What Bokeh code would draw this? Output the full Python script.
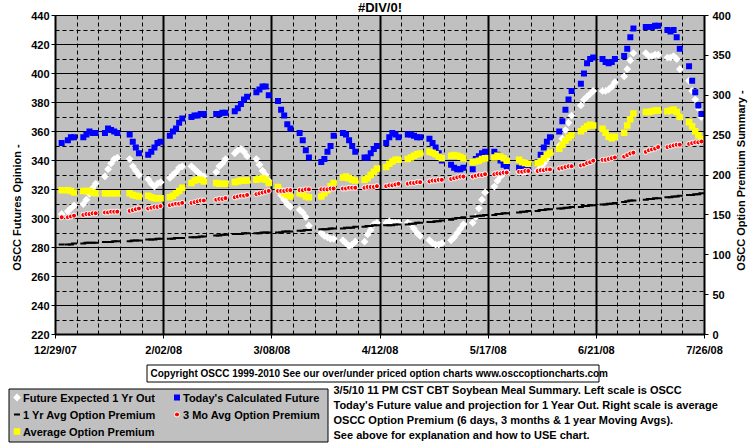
import math
import pandas as pd
from bokeh.plotting import figure
from bokeh.layouts import column, row
from bokeh.models import Range1d, LinearAxis, FixedTicker, ColumnDataSource
from bokeh.core.properties import value
from bokeh.embed import file_html
from bokeh.resources import INLINE

FONT = "Liberation Sans"

# ---------------- data ----------------
axis_start = "2007-12-29"
first_day = "2007-12-31"
last_day = "2008-07-25"
holidays = ["2008-01-01", "2008-01-21", "2008-02-18", "2008-03-21",
            "2008-05-26", "2008-07-04"]

tick_dates = ["2007-12-29", "2008-02-02", "2008-03-08", "2008-04-12",
              "2008-05-17", "2008-06-21", "2008-07-26"]
tick_labels = ["12/29/07", "2/02/08", "3/08/08", "4/12/08",
               "5/17/08", "6/21/08", "7/26/08"]
left_ticks = [220, 240, 260, 280, 300, 320, 340, 360, 380, 400, 420, 440]
right_ticks = [0, 50, 100, 150, 200, 250, 300, 350, 400]

# Future Expected 1 Yr Out (left scale)
future_1yr = [
    303, 305, 307, 309,
    310, 313, 317, 321, 324,
    329, 334, 338, 341, 342,
    341, 336, 333, 330,
    327, 324, 322, 324, 325,
    328, 330, 332, 335, 336,
    336, 334, 332, 330, 329,
    332, 336, 338, 341,
    345, 347, 348, 346, 343,
    341, 337, 333, 330, 326,
    321, 316, 313, 310, 308,
    306, 304, 301, 295,
    290, 288, 287, 286, 286,
    285, 283, 281, 282, 284,
    284, 289, 292, 296, 297,
    297, 298, 297, 297, 297,
    297, 296, 293, 290, 288,
    285, 283, 282, 282, 283,
    285, 287, 290, 293, 296,
    297, 301, 307, 313, 318,
    322, 326, 329, 331, 332,
    332, 332, 332, 333,
    333, 335, 338, 341, 345,
    350, 355, 361, 366, 371,
    378, 382, 384, 386, 388,
    388, 388, 389, 391, 394,
    398, 403, 409, 414,
    414, 412, 412, 413, 413,
    411, 411, 412, 410, 403,
    395, 388, 382, 376, 370,
]

# Today's Calculated Future (left scale)
today_future = [
    352, 354, 356, 356,
    356, 358, 360, 359, 359,
    359, 362, 361, 360, 359,
    358, 353, 349, 345,
    344, 346, 349, 352, 353,
    357, 360, 362, 366, 369,
    370, 371, 371, 372, 372,
    372, 372, 373, 373,
    374, 376, 379, 382, 384,
    387, 389, 391, 391, 385,
    381, 375, 371, 365, 362,
    359, 354, 347, 342,
    339, 341, 346, 350, 357,
    359, 358, 354, 350, 346,
    342, 342, 345, 348, 350,
    352, 356, 359, 358, 356,
    358, 358, 357, 356, 356,
    355, 352, 349, 345, 340,
    337, 335, 334, 334, 335,
    334, 341, 343, 345, 346,
    346, 344, 340, 337, 336,
    335, 334, 334, 334,
    339, 344, 349, 353, 356,
    360, 367, 375, 382, 388,
    393, 400, 407, 410, 411,
    410, 408, 407, 408, 410,
    412, 417, 425, 431,
    432, 432, 432, 433, 433,
    430, 429, 430, 425, 417,
    405, 395, 387, 378, 372,
]

# 1 Yr Avg Option Premium (right scale)
yr1_premium = [
    113, 113, 113, 114,
    114, 115, 115, 115, 115,
    116, 116, 116, 117, 117,
    117, 118, 118, 118,
    119, 119, 119, 120, 120,
    120, 120, 121, 121, 121,
    122, 122, 122, 123, 123,
    124, 124, 125, 125,
    126, 126, 126, 127, 127,
    127, 127, 128, 128, 128,
    128, 128, 129, 129, 129,
    130, 130, 131, 131,
    132, 132, 132, 133, 133,
    133, 134, 134, 134, 135,
    135, 136, 136, 137, 137,
    137, 137, 137, 138, 138,
    138, 139, 139, 140, 140,
    141, 141, 142, 142, 143,
    144, 145, 146, 146, 147,
    148, 148, 149, 149, 150,
    150, 151, 151, 152, 152,
    153, 154, 154, 155,
    155, 156, 156, 157, 157,
    158, 158, 159, 159, 160,
    160, 161, 161, 162, 162,
    163, 163, 164, 164, 165,
    166, 167, 168, 168,
    169, 170, 170, 171, 171,
    172, 172, 173, 173, 174,
    175, 175, 176, 176, 177,
]

# 3 Mo Avg Option Premium (right scale)
mo3_premium = [
    147, 147, 148, 149,
    150, 151, 151, 152, 152,
    153, 153, 154, 154, 154,
    155, 156, 157, 158,
    158, 159, 160, 160, 161,
    162, 163, 164, 164, 165,
    165, 166, 167, 168, 168,
    169, 170, 170, 171,
    172, 173, 174, 174, 175,
    176, 177, 178, 179, 180,
    180, 180, 180, 181, 181,
    181, 181, 182, 182,
    182, 182, 182, 183, 183,
    183, 183, 184, 184, 184,
    184, 185, 185, 185, 186,
    186, 187, 187, 188, 189,
    189, 190, 190, 191, 191,
    192, 193, 193, 194, 194,
    195, 196, 197, 198, 198,
    198, 199, 200, 200, 201,
    201, 202, 202, 203, 203,
    204, 204, 205, 205,
    205, 206, 206, 207, 207,
    208, 209, 210, 211, 211,
    212, 213, 215, 216, 218,
    219, 219, 220, 221, 222,
    223, 225, 227, 228,
    229, 231, 232, 233, 235,
    235, 236, 237, 238, 238,
    239, 240, 241, 241, 242,
]

# Average Option Premium (right scale)
avg_premium = [
    181, 181, 180, 178,
    180, 180, 180, 178, 177,
    177, 177, 177, 177, 177,
    177, 175, 174, 173,
    174, 172, 171, 171, 171,
    172, 174, 177, 180, 184,
    190, 193, 194, 194, 192,
    190, 189, 189, 189,
    191, 192, 193, 193, 193,
    194, 195, 196, 194, 190,
    185, 180, 177, 175, 173,
    177, 176, 173, 172,
    173, 177, 181, 186, 190,
    197, 198, 196, 194, 193,
    194, 196, 200, 204, 208,
    210, 214, 217, 219, 219,
    220, 222, 224, 226, 227,
    229, 228, 226, 223, 221,
    224, 225, 224, 223, 221,
    216, 217, 218, 220, 221,
    222, 224, 223, 221, 218,
    219, 216, 215, 214,
    215, 217, 221, 225, 228,
    233, 238, 243, 247, 250,
    255, 258, 261, 263, 262,
    258, 253, 248, 246, 248,
    253, 262, 270, 277,
    279, 279, 280, 281, 281,
    280, 281, 282, 279, 273,
    266, 261, 255, 250, 245,
]

title_text = "#DIV/0!"
left_label = "OSCC Futures Opinion -"
right_label = "OSCC Option Premium Summary -"
series_names = ["Future Expected 1 Yr Out", "Today's Calculated Future",
                "1 Yr Avg Option Premium", "3 Mo Avg Option Premium",
                "Average Option Premium"]
copyright_text = ("Copyright OSCC 1999-2010 See our over/under priced option "
                  "charts www.osccoptioncharts.com")
note_lines = [
    "3/5/10 11 PM CST CBT Soybean Meal Summary. Left scale is OSCC",
    "Today's Future value and projection for 1 Year Out. Right scale is average",
    "OSCC Option Premium (6  days, 3 months & 1 year Moving  Avgs).",
    "See above for explanation and how to USE chart.",
]

# ---------------- styles ----------------
STY = {
    "future": dict(marker="square", angle=math.pi / 4, size=5.5,
                   fill_color="white", line_color=None),
    "today": dict(marker="square", size=6, fill_color="#0000ff", line_color=None),
    "yr1": dict(marker="dash", size=6, line_color="black", line_width=2),
    "mo3": dict(marker="circle", size=5, fill_color="#ff0000",
                line_color="white", line_width=1),
    "avg": dict(marker="square", size=6.5, fill_color="#ffff00", line_color=None),
}
TXT = dict(text_font=value(FONT), text_font_style="bold", text_color="black",
           text_baseline="middle")

W, H = 755, 446
LEFT_W, RIGHT_W, TOP_H = 27, 21, 358


def blank(width, height, x0, x1, y0, y1):
    fig = figure(width=width, height=height, output_backend="svg",
                 toolbar_location=None, x_range=Range1d(x0, x1),
                 y_range=Range1d(y1, y0), x_axis_location=None,
                 y_axis_location=None, min_border=0,
                 background_fill_color="white", border_fill_color="white",
                 outline_line_color=None)
    fig.grid.visible = False
    return fig


# ---------------- main chart ----------------
t0 = pd.Timestamp(axis_start)
dates = [d for d in pd.bdate_range(first_day, last_day)
         if d.strftime("%Y-%m-%d") not in holidays]
days = [(d - t0).days for d in dates]
for s in (future_1yr, today_future, yr1_premium, mo3_premium, avg_premium):
    assert len(s) == len(days), (len(s), len(days))

tick_days = [(pd.Timestamp(d) - t0).days for d in tick_dates]
minor_days = [d for d in range(tick_days[0], tick_days[-1] + 1, 7)
              if d not in tick_days]

src = ColumnDataSource(dict(day=days, future=future_1yr, today=today_future,
                            yr1=yr1_premium, mo3=mo3_premium, avg=avg_premium))

p = figure(width=W - LEFT_W - RIGHT_W, height=TOP_H, output_backend="svg",
           toolbar_location=None, title=title_text,
           x_range=Range1d(tick_days[0], tick_days[-1]),
           y_range=Range1d(left_ticks[0], left_ticks[-1]),
           min_border_left=28, min_border_right=30, min_border_top=15,
           min_border_bottom=23,
           background_fill_color="#c0c0c0", border_fill_color="white",
           outline_line_color="black")
p.title.align = "center"
p.title.vertical_align = "top"
p.title.text_font = FONT
p.title.text_font_style = "bold"
p.title.text_font_size = "13px"
p.title.text_color = "black"
try:
    p.title.standoff = -3
except Exception:
    p.title.standoff = 0
    p.title.text_font_size = "11px"

p.extra_y_ranges = {"prem": Range1d(right_ticks[0], right_ticks[-1])}

xa = p.xaxis[0]
xa.ticker = FixedTicker(ticks=tick_days, minor_ticks=minor_days)
xa.major_label_overrides = {d: lab for d, lab in zip(tick_days, tick_labels)}
ya = p.yaxis[0]
ya.ticker = FixedTicker(ticks=left_ticks,
                        minor_ticks=[v + 10 for v in left_ticks[:-1]])
ra = LinearAxis(y_range_name="prem", ticker=FixedTicker(ticks=right_ticks))
p.add_layout(ra, "right")

for ax in (xa, ya, ra):
    ax.axis_line_color = "black"
    ax.axis_line_width = 2
    ax.major_tick_line_color = "black"
    ax.major_tick_out = 4
    ax.major_tick_in = 0
    ax.minor_tick_out = 0
    ax.minor_tick_in = 0
    ax.major_label_text_font = FONT
    ax.major_label_text_font_style = "bold"
    ax.major_label_text_font_size = "11px"
    ax.major_label_text_color = "black"
xa.major_label_standoff = 5
ya.major_label_standoff = 2
ra.major_label_standoff = 4

p.xgrid.grid_line_color = "black"
p.xgrid.grid_line_width = 2
p.xgrid.minor_grid_line_color = "black"
p.xgrid.minor_grid_line_dash = "4 3"
p.ygrid.grid_line_color = "black"
p.ygrid.grid_line_width = 1
p.ygrid.minor_grid_line_color = "black"
p.ygrid.minor_grid_line_dash = "4 3"

p.scatter("day", "future", source=src, **STY["future"])
p.scatter("day", "today", source=src, **STY["today"])
p.scatter("day", "yr1", source=src, y_range_name="prem", **STY["yr1"])
p.scatter("day", "avg", source=src, y_range_name="prem", **STY["avg"])
p.scatter("day", "mo3", source=src, y_range_name="prem", **STY["mo3"])

# ---------------- axis titles (side strips, page-pixel coordinates) ----------------
lstrip = blank(LEFT_W, TOP_H, 0, LEFT_W, 0, TOP_H)
lstrip.text(x=[16], y=[207], text=[left_label], angle=math.pi / 2,
            text_align="center", text_font_size="11px", **TXT)

rstrip = blank(RIGHT_W, TOP_H, W - RIGHT_W, W, 0, TOP_H)
rstrip.text(x=[740], y=[180], text=[right_label], angle=math.pi / 2,
            text_align="center", text_font_size="11px", **TXT)

# ---------------- footer: copyright, legend, notes ----------------
f = blank(W, H - TOP_H, 0, W, TOP_H, H)

f.quad(left=146.5, right=598.5, top=364.5, bottom=381.5,
       fill_color="white", line_color="black", line_width=1)
f.text(x=[150], y=[373], text=[copyright_text], text_align="left",
       text_font_size="10px", **TXT)

f.quad(left=8.5, right=327.5, top=388.5, bottom=441.5,
       fill_color="#c0c0c0", line_color="black", line_width=1)
key_cols = [16.5, 176.5]
key_rows = [397, 414, 431]
key_order = ["future", "today", "yr1", "mo3", "avg"]
for i, (key, name) in enumerate(zip(key_order, series_names)):
    kx = key_cols[i % 2]
    ky = key_rows[i // 2]
    f.scatter(x=[kx], y=[ky], **STY[key])
    f.text(x=[kx + 6], y=[ky], text=[name], text_align="left",
           text_font_size="11px", **TXT)

f.text(x=[333] * len(note_lines), y=[389 + 15 * i for i in range(len(note_lines))],
       text=note_lines, text_align="left", text_font_size="11px", **TXT)

for fig in (p, lstrip, rstrip, f):
    if "frame_align" in fig.properties():
        fig.frame_align = False

root = column(row(lstrip, p, rstrip, spacing=0), f, spacing=0)

open("out.html", "w").write(file_html(root, INLINE))
